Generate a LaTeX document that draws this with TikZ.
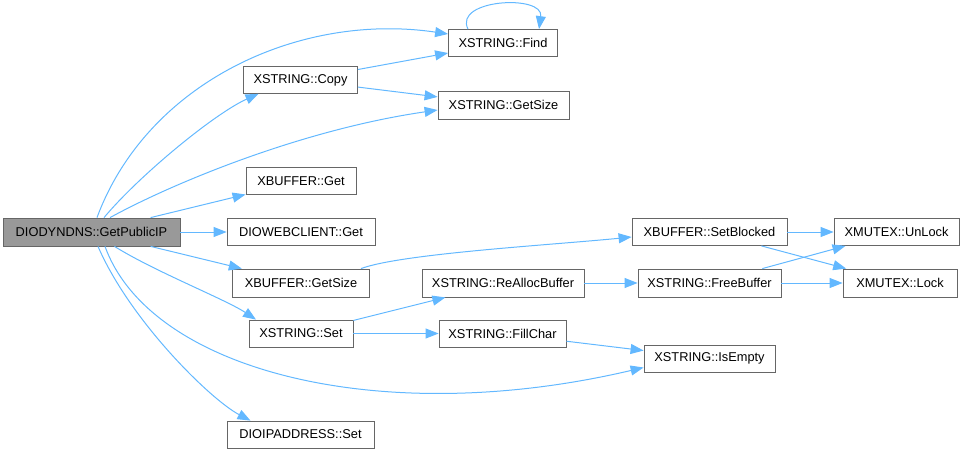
\documentclass[tikz,border=0pt]{standalone}
\usepackage{fontspec}
\setmainfont{Liberation Sans}
\usetikzlibrary{arrows.meta}

\definecolor{edgeblue}{HTML}{63B8FF}
\definecolor{boxgrey}{HTML}{666666}
\definecolor{rootgrey}{HTML}{999999}

\begin{document}
\begin{tikzpicture}[x=1pt, y=-1pt,
  fn/.style={draw=boxgrey, fill=white, line width=0.8pt, minimum height=27pt,
    inner sep=0pt, font=\fontsize{12.8}{15}\selectfont},
  rootfn/.style={fn, fill=rootgrey},
  call/.style={draw=edgeblue, line width=1pt,
    -{Triangle[length=13pt, width=10pt, fill=edgeblue]}}]

  \useasboundingbox (0,0) rectangle (964,453);

  % caller
  \node[rootfn, minimum width=177pt, minimum height=28pt] (root) at (91.5,232) {DIODYNDNS::GetPublicIP};

  % first column of callees
  \node[fn, minimum width=114pt] (copy)      at (300.5,80)  {XSTRING::Copy};
  \node[fn, minimum width=110pt] (xbget)     at (301,181)   {XBUFFER::Get};
  \node[fn, minimum width=148pt] (webget)    at (301,232)   {DIOWEBCLIENT::Get};
  \node[fn, minimum width=137pt, minimum height=28pt] (xbgetsize) at (301,283) {XBUFFER::GetSize};
  \node[fn, minimum width=104pt] (xsset)     at (301,333.5) {XSTRING::Set};
  \node[fn, minimum width=147pt] (ipset)     at (300.5,434.5) {DIOIPADDRESS::Set};

  % second column
  \node[fn, minimum width=109pt] (find)      at (503,43)    {XSTRING::Find};
  \node[fn, minimum width=131pt, minimum height=28pt] (xsgetsize) at (503.5,105) {XSTRING::GetSize};
  \node[fn, minimum width=162pt, minimum height=28pt] (realloc)   at (503,283)   {XSTRING::ReAllocBuffer};
  \node[fn, minimum width=127pt] (fillchar)  at (502.5,333.5) {XSTRING::FillChar};

  % third column
  \node[fn, minimum width=155pt] (setblocked) at (709.5,232) {XBUFFER::SetBlocked};
  \node[fn, minimum width=143pt, minimum height=28pt] (freebuffer) at (709.5,283) {XSTRING::FreeBuffer};
  \node[fn, minimum width=131pt] (isempty)    at (709.5,358.5) {XSTRING::IsEmpty};

  % fourth column
  \node[fn, minimum width=125pt] (unlock) at (896.5,232) {XMUTEX::UnLock};
  \node[fn, minimum width=114pt, minimum height=28pt] (lock) at (900,283) {XMUTEX::Lock};

  % calls from GetPublicIP
  \draw[call] ([xshift=5.5pt]root.north) .. controls +(50,-135) and +(-149,-22) .. ([yshift=9pt]find.west);
  \draw[call] ([xshift=12.5pt]root.north) .. controls +(36,-43) and +(-43,19) .. ([xshift=-42pt]copy.south);
  \draw[call] ([xshift=18.5pt]root.north) .. controls +(60,-33) and +(-138,20) .. ([yshift=-5pt]xsgetsize.west);
  \draw[call] (root) -- (xbget);
  \draw[call] (root) -- (webget);
  \draw[call] (root) -- (xbgetsize);
  \draw[call] ([xshift=23pt]root.south) .. controls +(40,25) and +(-30,-20) .. ([xshift=-45pt]xsset.north);
  \draw[call] ([xshift=13.5pt]root.south) .. controls +(45,124) and +(-264,62) .. ([yshift=-9pt]isempty.west);
  \draw[call] ([xshift=6.5pt]root.south) .. controls +(32,74) and +(-40,-21) .. ([xshift=-50pt]ipset.north);

  % XSTRING::Copy
  \draw[call] (copy) -- (find);
  \draw[call] (copy) -- (xsgetsize);
  \draw[call] ([xshift=-35pt]find.north) .. controls +(-15,-30) and +(5,-35) .. ([xshift=36pt]find.north);

  % XBUFFER::GetSize and SetBlocked
  \draw[call] ([xshift=60pt]xbgetsize.north) .. controls +(40,-15) and +(-80,8) .. ([yshift=-5pt]setblocked.west);
  \draw[call] (setblocked) -- (unlock);
  \draw[call] (setblocked) -- (lock);

  % XSTRING::Set chain
  \draw[call] (xsset) -- (realloc);
  \draw[call] (xsset) -- (fillchar);
  \draw[call] (realloc) -- (freebuffer);
  \draw[call] (freebuffer) -- (unlock);
  \draw[call] (freebuffer) -- (lock);
  \draw[call] (fillchar) -- (isempty);
\end{tikzpicture}
\end{document}
